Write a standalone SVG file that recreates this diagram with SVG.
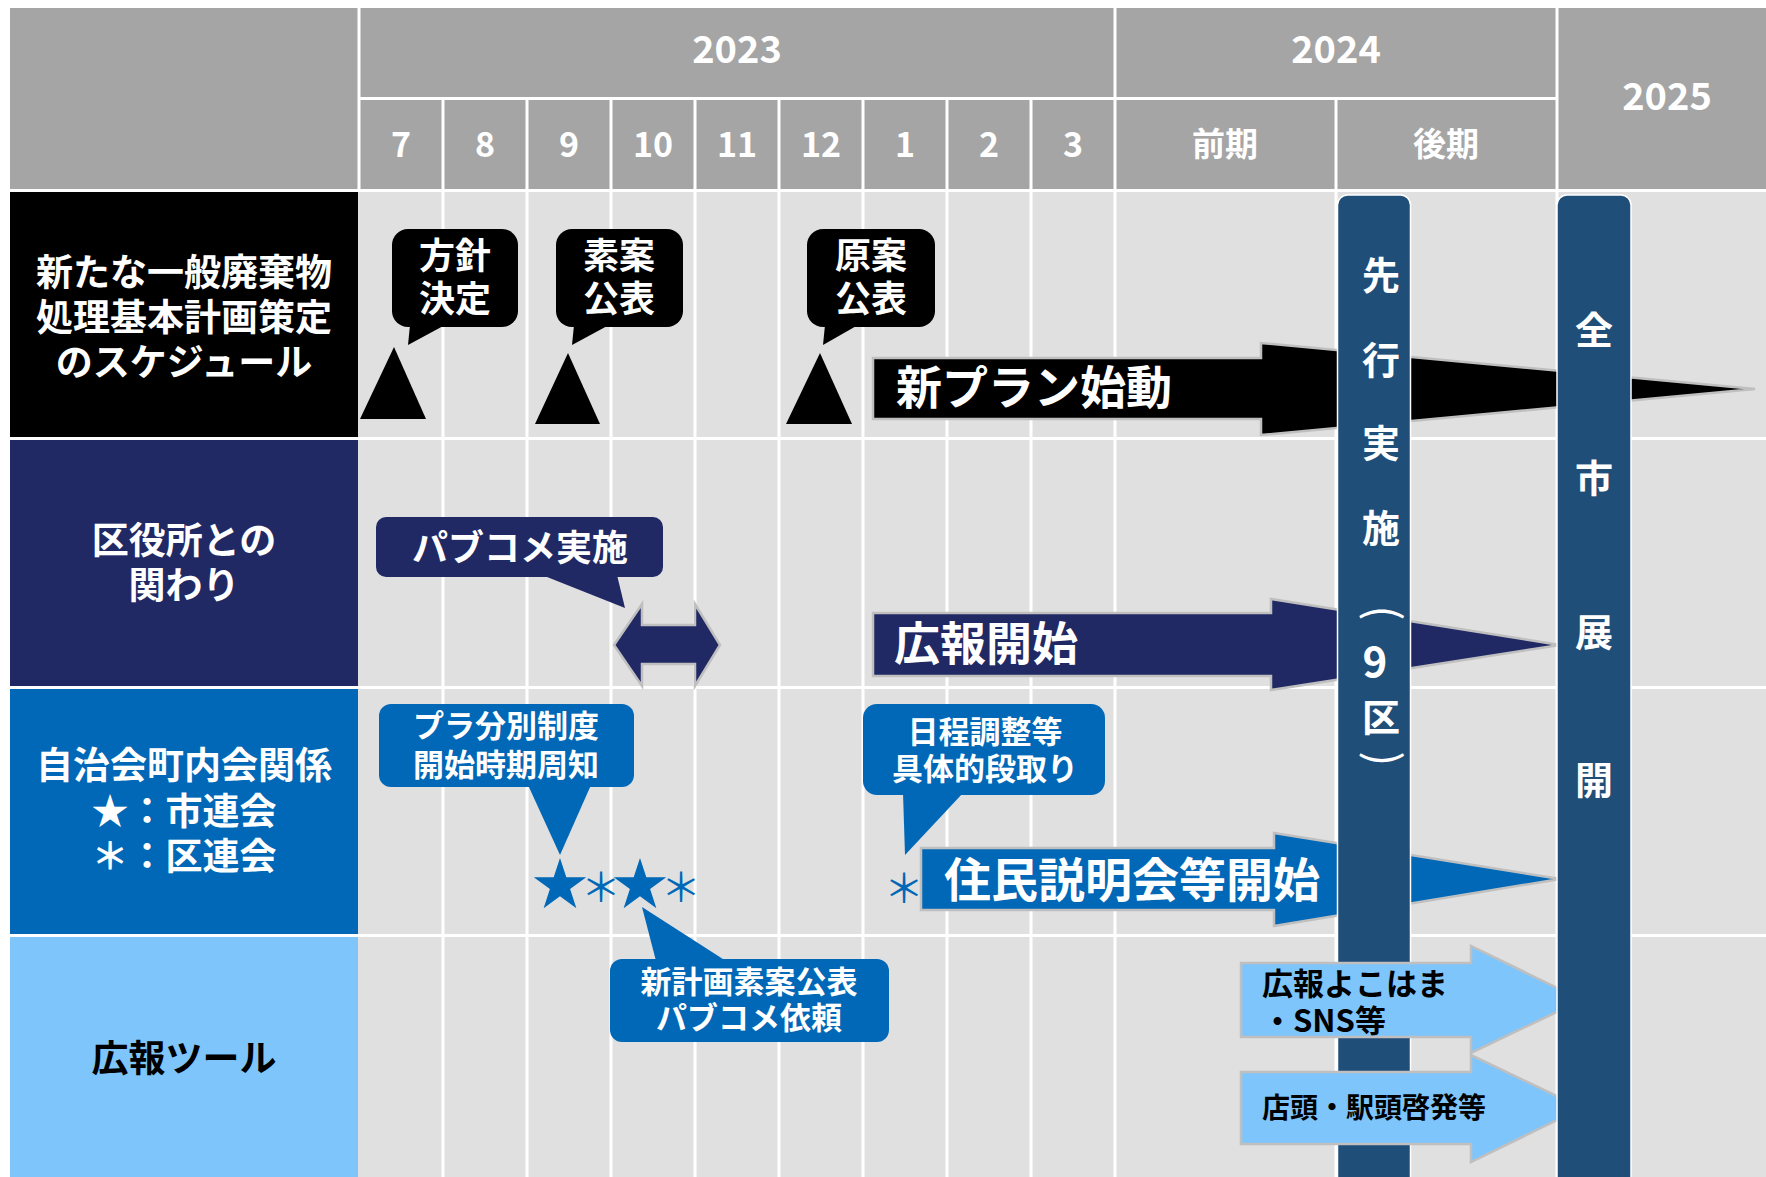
<svg xmlns="http://www.w3.org/2000/svg" width="1766" height="1177" viewBox="0 0 1766 1177">
<style>
.t{font-family:"Noto Sans CJK JP","Noto Sans",sans-serif;font-weight:700;text-anchor:middle}
.s{text-anchor:start}
.w{fill:#fff}
.k{fill:#000}
.bl{fill:#0068b7}
.gl{stroke:#fff;stroke-width:3}
.arr{stroke:#bfbfbf;stroke-width:2.5}
.bar{fill:#1f4e79;stroke:#fff;stroke-width:1.5}
</style>
<rect width="1766" height="1177" fill="#fff"/>
<g id="header">
<rect x="10" y="8" width="1756" height="181" fill="#a5a5a5"/>
<g class="gl">
<line x1="359" y1="8" x2="359" y2="189"/>
<line x1="1115" y1="8" x2="1115" y2="189"/>
<line x1="1557" y1="8" x2="1557" y2="189"/>
<line x1="359" y1="98.5" x2="1557" y2="98.5"/>
<line x1="443" y1="98" x2="443" y2="189"/>
<line x1="527" y1="98" x2="527" y2="189"/>
<line x1="611" y1="98" x2="611" y2="189"/>
<line x1="695" y1="98" x2="695" y2="189"/>
<line x1="779" y1="98" x2="779" y2="189"/>
<line x1="863" y1="98" x2="863" y2="189"/>
<line x1="947" y1="98" x2="947" y2="189"/>
<line x1="1031" y1="98" x2="1031" y2="189"/>
<line x1="1336" y1="98" x2="1336" y2="189"/>
</g>
<g class="t w" font-size="38">
<text x="737" y="63">2023</text>
<text x="1336" y="63">2024</text>
<text x="1667" y="110">2025</text>
</g>
<g class="t w" font-size="34">
<text x="401" y="157">7</text>
<text x="485" y="157">8</text>
<text x="569" y="157">9</text>
<text x="653" y="157">10</text>
<text x="737" y="157">11</text>
<text x="821" y="157">12</text>
<text x="905" y="157">1</text>
<text x="989" y="157">2</text>
<text x="1073" y="157">3</text>
</g>
<g class="t w" font-size="33">
<text x="1225" y="156">前期</text>
<text x="1446" y="156">後期</text>
</g>
</g>
<g id="grid">
<rect x="10" y="192" width="1756" height="985" fill="#e0e0e0"/>
<g class="gl">
<line x1="443" y1="189" x2="443" y2="1177"/>
<line x1="527" y1="189" x2="527" y2="1177"/>
<line x1="611" y1="189" x2="611" y2="1177"/>
<line x1="695" y1="189" x2="695" y2="1177"/>
<line x1="779" y1="189" x2="779" y2="1177"/>
<line x1="863" y1="189" x2="863" y2="1177"/>
<line x1="947" y1="189" x2="947" y2="1177"/>
<line x1="1031" y1="189" x2="1031" y2="1177"/>
<line x1="1115" y1="189" x2="1115" y2="1177"/>
<line x1="1336" y1="189" x2="1336" y2="1177"/>
<line x1="1557" y1="189" x2="1557" y2="1177"/>
<line x1="10" y1="438.5" x2="1766" y2="438.5"/>
<line x1="10" y1="687.5" x2="1766" y2="687.5"/>
<line x1="10" y1="935.5" x2="1766" y2="935.5"/>
</g>
</g>
<g id="label-plan">
<rect x="10" y="192" width="348" height="245" fill="#000"/>
<g class="t w" font-size="37">
<text x="184" y="286">新たな一般廃棄物</text>
<text x="184" y="331">処理基本計画策定</text>
<text x="184" y="376">のスケジュール</text>
</g>
</g>
<g id="label-ward">
<rect x="10" y="440" width="348" height="246" fill="#212965"/>
<g class="t w" font-size="37">
<text x="184" y="554">区役所との</text>
<text x="184" y="599">関わり</text>
</g>
</g>
<g id="label-assoc">
<rect x="10" y="689" width="348" height="245" fill="#0068b7"/>
<g class="t w" font-size="37">
<text x="184" y="779">自治会町内会関係</text>
<text x="184" y="825">★：市連会</text>
<text x="184" y="870">＊：区連会</text>
</g>
</g>
<g id="label-tools">
<rect x="10" y="937" width="348" height="240" fill="#7ec5fc"/>
<text class="t k" x="184" y="1072" font-size="37">広報ツール</text>
</g>
<g id="milestone-houshin">
<rect x="392" y="229" width="126" height="98" rx="16" fill="#000"/>
<polygon points="410,325 445,325 408,345" fill="#000"/>
<polygon points="394,347 360,419 426,419" fill="#000"/>
<g class="t w" font-size="36"><text x="455" y="269">方針</text><text x="455" y="312">決定</text></g>
</g>
<g id="milestone-soan">
<rect x="556" y="229" width="127" height="98" rx="16" fill="#000"/>
<polygon points="574,325 609,325 572,345" fill="#000"/>
<polygon points="568,353 535,424 600,424" fill="#000"/>
<g class="t w" font-size="36"><text x="619" y="269">素案</text><text x="619" y="312">公表</text></g>
</g>
<g id="milestone-genan">
<rect x="807" y="229" width="128" height="98" rx="16" fill="#000"/>
<polygon points="825,325 858,325 823,345" fill="#000"/>
<polygon points="820,353 786,424 852,424" fill="#000"/>
<g class="t w" font-size="36"><text x="871" y="269">原案</text><text x="871" y="312">公表</text></g>
</g>
<g id="callout-pubcom">
<rect x="376" y="517" width="287" height="60" rx="10" fill="#212965"/>
<polygon points="542,575 617,575 625,608" fill="#212965"/>
<text class="t w" x="520" y="561" font-size="36">パブコメ実施</text>
</g>
<g id="callout-pura">
<rect x="379" y="704" width="255" height="83" rx="12" fill="#0068b7"/>
<polygon points="528,785 591,785 560,855" fill="#0068b7"/>
<g class="t w" font-size="31"><text x="506" y="737">プラ分別制度</text><text x="506" y="776">開始時期周知</text></g>
</g>
<g id="callout-nittei">
<rect x="863" y="704" width="242" height="91" rx="14" fill="#0068b7"/>
<polygon points="903,793 963,793 905,855" fill="#0068b7"/>
<g class="t w" font-size="31"><text x="985" y="743">日程調整等</text><text x="985" y="780">具体的段取り</text></g>
</g>
<g id="callout-shinkeikaku">
<rect x="610" y="959" width="279" height="83" rx="12" fill="#0068b7"/>
<polygon points="642,907 656,961 726,961" fill="#0068b7"/>
<g class="t w" font-size="31"><text x="749" y="993">新計画素案公表</text><text x="749" y="1029">パブコメ依頼</text></g>
</g>
<g id="marks" class="t bl">
<text x="560" y="904" font-size="56">★</text>
<text x="640" y="904" font-size="56">★</text>
<text x="601" y="902" font-size="40" font-weight="400">＊</text>
<text x="681" y="902" font-size="40" font-weight="400">＊</text>
<text x="904" y="903" font-size="40" font-weight="400">＊</text>
</g>
<g id="connectors">
<polygon class="arr" points="873,358 1261,358 1261,343 1755,389 1261,435 1261,419 873,419" fill="#000"/>
<polygon class="arr" points="873,613 1271,613 1271,599 1560,645 1271,690 1271,676 873,676" fill="#212965"/>
<polygon class="arr" points="921,848 1274,848 1274,833 1560,879 1274,926 1274,910 921,910" fill="#0068b7"/>
<polygon class="arr" points="614,645 642,604 642,625 695,625 695,604 720,645 695,686 695,664 642,664 642,686" fill="#212965"/>
</g>
<g id="arrow-texts" class="t w">
<text x="1034" y="404" font-size="46">新プラン始動</text>
<text x="986" y="660" font-size="46">広報開始</text>
<text x="1132" y="897" font-size="47">住民説明会等開始</text>
</g>
<g id="bar-senkou">
<rect class="bar" x="1337.5" y="195" width="73" height="995" rx="10"/>
<g class="t w" font-size="38">
<text x="1381" y="289">先</text>
<text x="1381" y="374">行</text>
<text x="1381" y="457">実</text>
<text x="1381" y="542">施</text>
<text x="1381" y="626" font-size="44" font-weight="400" transform="rotate(90 1381 613)">(</text>
<text x="1375" y="677" font-size="42">9</text>
<text x="1381" y="731">区</text>
<text x="1381" y="772" font-size="44" font-weight="400" transform="rotate(90 1381 759)">)</text>
</g>
</g>
<g id="tool-arrows">
<polygon class="arr" points="1241,963 1471,963 1471,946 1582,1000 1471,1053 1471,1037 1241,1037" fill="#7ec5fc"/>
<polygon class="arr" points="1241,1072 1471,1072 1471,1055 1582,1108 1471,1162 1471,1144 1241,1144" fill="#7ec5fc"/>
<g class="t k s">
<text x="1262" y="995" font-size="31">広報よこはま</text>
<text x="1262" y="1032" font-size="31">・SNS等</text>
<text x="1262" y="1118" font-size="28">店頭・駅頭啓発等</text>
</g>
</g>
<g id="bar-zenshi">
<rect class="bar" x="1557" y="195" width="74" height="995" rx="10"/>
<g class="t w" font-size="38">
<text x="1594" y="344">全</text>
<text x="1594" y="492">市</text>
<text x="1594" y="646">展</text>
<text x="1594" y="794">開</text>
</g>
</g>
</svg>
